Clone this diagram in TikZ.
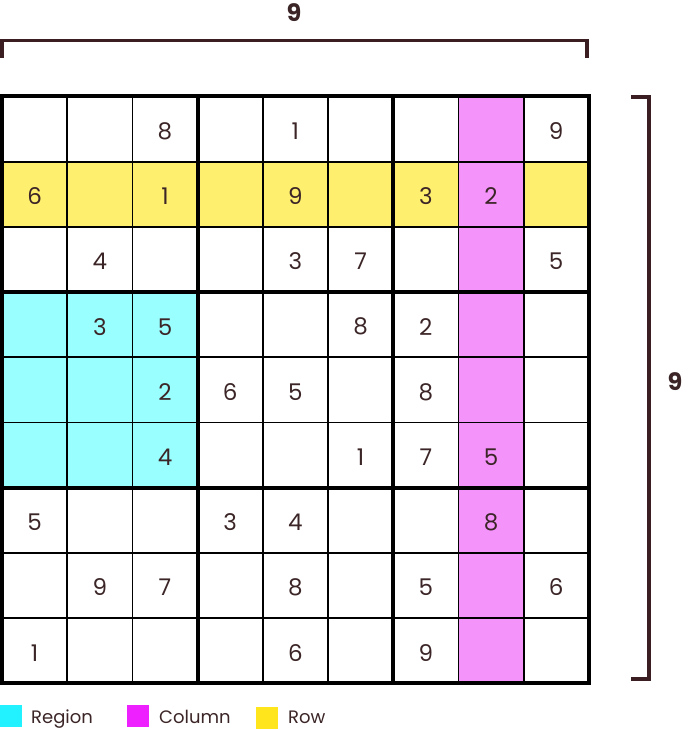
\documentclass[tikz,border=0pt]{standalone}
\usepackage{fontspec}
\setmainfont{Poppins}
\definecolor{txt}{HTML}{3B2527}
\definecolor{brk}{HTML}{3A1E22}
\definecolor{rowfill}{HTML}{FFEF6E}
\definecolor{colfill}{HTML}{F494FA}
\definecolor{regfill}{HTML}{99FFFF}
\definecolor{regkey}{HTML}{22F2FF}
\definecolor{colkey}{HTML}{EF20FF}
\definecolor{rowkey}{HTML}{FFE61C}
\tikzset{
  digit/.style={text=txt,font=\fontsize{23}{23}\selectfont,inner sep=0pt,anchor=center},
  dimlabel/.style={text=txt,font=\bfseries\fontsize{24}{24}\selectfont,inner sep=0pt},
  keytext/.style={text=txt,font=\fontsize{18}{18}\selectfont,inner sep=0pt,anchor=base west},
  thinline/.style={line width=1.8pt,black},
  thickline/.style={line width=4pt,black},
  bracket/.style={line width=3.6pt,brk},
}
\begin{document}
\begin{tikzpicture}[x=1pt,y=-1pt]
\useasboundingbox (0,0) rectangle (689,730);
\def\cs{65.2}
\def\gx{2}
\def\gy{96.5}
% fills
\fill[rowfill] (\gx,\gy+\cs) rectangle (\gx+9*\cs,\gy+2*\cs);
\fill[colfill] (\gx+7*\cs,\gy) rectangle (\gx+8*\cs,\gy+9*\cs);
\fill[regfill] (\gx,\gy+3*\cs) rectangle (\gx+3*\cs,\gy+6*\cs);
% thin lines
\foreach \k in {1,2,4,5,7,8}{
  \draw[thinline] (\gx+\k*\cs,\gy) -- (\gx+\k*\cs,\gy+9*\cs);
  \draw[thinline] (\gx,\gy+\k*\cs) -- (\gx+9*\cs,\gy+\k*\cs);
}
% thick lines
\foreach \k in {3,6}{
  \draw[thickline] (\gx+\k*\cs,\gy) -- (\gx+\k*\cs,\gy+9*\cs);
  \draw[thickline] (\gx,\gy+\k*\cs) -- (\gx+9*\cs,\gy+\k*\cs);
}
\draw[thickline] (\gx,\gy) rectangle (\gx+9*\cs,\gy+9*\cs);
% digits
\foreach \r/\c/\v in {1/3/8, 1/5/1, 1/9/9, 2/1/6, 2/3/1, 2/5/9, 2/7/3, 2/8/2,
  3/2/4, 3/5/3, 3/6/7, 3/9/5, 4/2/3, 4/3/5, 4/6/8, 4/7/2, 5/3/2, 5/4/6, 5/5/5,
  5/7/8, 6/3/4, 6/6/1, 6/7/7, 6/8/5, 7/1/5, 7/4/3, 7/5/4, 7/8/8, 8/2/9, 8/3/7,
  8/5/8, 8/7/5, 8/9/6, 9/1/1, 9/5/6, 9/7/9}{
  \node[digit] (d-\r-\c) at (\gx+\c*\cs-0.5*\cs,\gy+\r*\cs-0.5*\cs+2) {\v};
}
% brackets
\draw[bracket,line cap=butt] (1.8,58) -- (1.8,40.5) -- (587,40.5) -- (587,58);
\node[dimlabel] (toplabel) at (294,13) {9};
\draw[bracket,line cap=butt] (631,97) -- (649,97) -- (649,679) -- (631,679);
\node[dimlabel] (sidelabel) at (675,382) {9};
% legend
\fill[regkey] (0,705) rectangle (22,727);
\node[keytext] (kreg) at (31,723) {Region};
\fill[colkey] (127,705) rectangle (149,727);
\node[keytext] (kcol) at (159,723) {Column};
\fill[rowkey] (256,707) rectangle (278,729);
\node[keytext] (krow) at (288,723) {Row};
\end{tikzpicture}
\end{document}
